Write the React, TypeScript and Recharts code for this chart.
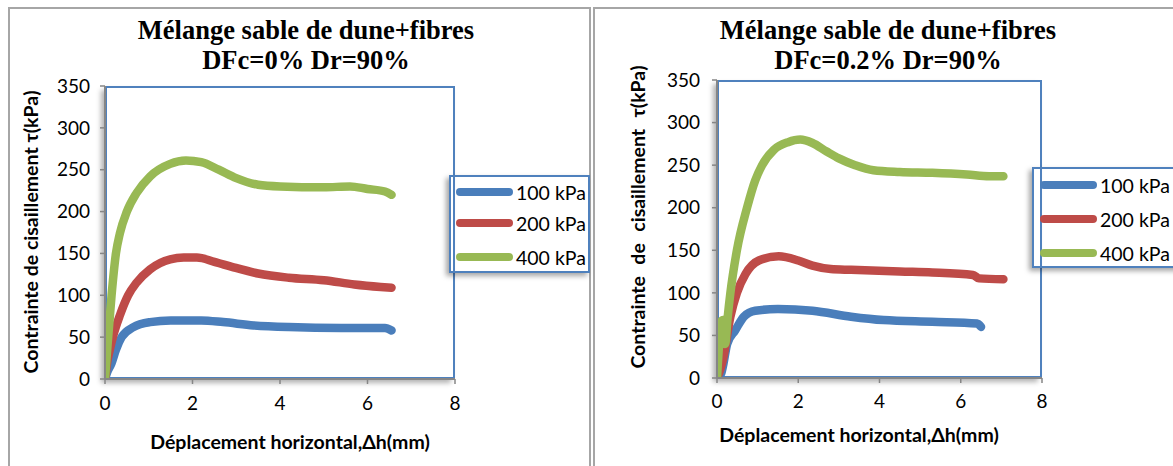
import { LineChart, Line, XAxis, YAxis, Legend } from 'recharts';

const xTicks = [0, 2, 4, 6, 8];
const yTicks = [0, 50, 100, 150, 200, 250, 300, 350];
const seriesNames = ['100 kPa', '200 kPa', '400 kPa'];
const seriesColors = ['#4A7EBB', '#BE4B48', '#98B954'];

// DFc = 0 %
const blue0X = [0, 0.05, 0.15, 0.25, 0.38, 0.65, 1.03, 1.5, 2.2, 2.7, 3.4, 4.2, 5.4, 6.4, 6.55];
const blue0Y = [0, 8, 19, 35, 50, 62, 68, 70, 70, 68, 64, 62, 61, 61, 58];
const red0X = [0, 0.05, 0.11, 0.19, 0.34, 0.53, 0.72, 1.03, 1.49, 1.8, 2.1, 2.5, 2.9, 3.5, 4.2, 5.0, 5.7, 6.3, 6.55];
const red0Y = [0, 20, 35, 52, 76, 100, 115, 131, 143, 145, 145, 140, 134, 126, 121, 118, 113, 110, 109];
const green0X = [0, 0.05, 0.15, 0.25, 0.34, 0.5, 0.72, 1.03, 1.49, 1.85, 2.2, 2.6, 3.0, 3.5, 4.0, 5.0, 5.6, 6.0, 6.4, 6.55];
const green0Y = [0, 35, 100, 150, 174, 200, 222, 242, 257, 261, 259, 250, 240, 232, 230, 229, 230, 227, 224, 220];

// DFc = 0.2 %
const blue2X = [0, 0.1, 0.16, 0.25, 0.45, 0.66, 0.94, 1.5, 2.35, 3.3, 4.1, 5.3, 6.4, 6.5];
const blue2Y = [0, 5, 17, 40, 56, 72, 79, 81, 79, 72, 68, 66, 64, 60];
const red2X = [0, 0.08, 0.16, 0.33, 0.49, 0.7, 1.03, 1.52, 2.0, 2.35, 2.8, 3.3, 4.5, 5.3, 6.3, 6.45, 7.05];
const red2Y = [0, 10, 25, 72, 100, 122, 138, 143, 138, 132, 128, 127, 125, 124, 121, 117, 116];
const green2X = [0, 0.06, 0.1, 0.15, 0.2, 0.26, 0.33, 0.49, 0.74, 0.94, 1.11, 1.4, 1.75, 2.05, 2.35, 2.7, 3.0, 3.4, 3.85, 4.5, 5.3, 6.15, 6.7, 7.05];
const green2Y = [0, 45, 66, 68, 40, 70, 100, 150, 200, 232, 250, 268, 277, 280, 276, 266, 258, 250, 244, 242, 241, 239, 237, 237];

const zip = (xs: number[], ys: number[]) => xs.map((x, i) => ({ x, y: ys[i] }));

const axisGrey = '#868686';
const lato = 'Lato, "Open Sans", sans-serif';

function LegendBox({ payload, itemTops, inset }: any) {
  return (
    <div
      style={{
        position: 'relative',
        width: '100%',
        height: '100%',
        boxSizing: 'border-box',
        border: '2px solid #4F81BD',
        boxShadow: '-3px 3px 5px rgba(0,0,0,0.35)',
      }}
    >
      {(payload || []).map((p: any, i: number) => (
        <div key={p.value} style={{ position: 'absolute', left: inset, top: itemTops[i], display: 'flex', alignItems: 'center', height: 22 }}>
          <div style={{ width: 57, height: 8, borderRadius: 4, background: p.color }} />
          <span style={{ marginLeft: 3, fontFamily: lato, fontSize: 19.5, color: '#000', whiteSpace: 'nowrap' }}>{p.value}</span>
        </div>
      ))}
    </div>
  );
}

function Panel(props: any) {
  const { left, width, plot, series, title2, legend, yLabel, xLabel, tickMargins } = props;
  const m = {
    left: plot.x0 - left - 50,
    right: left + width - plot.x1,
    top: plot.y0,
    bottom: 466 - plot.y1 - 30,
  };
  return (
    <>
      <div
        style={{
          position: 'absolute',
          left: plot.x0,
          top: plot.y0,
          width: plot.x1 - plot.x0,
          height: plot.y1 - plot.y0,
          boxSizing: 'border-box',
          border: '2px solid #4F81BD',
          boxShadow: '-4px 4px 5px rgba(0,0,0,0.3)',
          background: '#fff',
        }}
      />
      <div
        style={{
          position: 'absolute',
          left: props.titleX - 250,
          width: 500,
          top: 15,
          textAlign: 'center',
          fontFamily: '"Liberation Serif", "Times New Roman", serif',
          fontWeight: 'bold',
          fontSize: 26.5,
          lineHeight: '30px',
          color: '#000',
        }}
      >
        Mélange sable de dune+fibres
        <br />
        {title2}
      </div>
      <div
        style={{
          position: 'absolute',
          left: yLabel.x - 200,
          top: yLabel.y - 12,
          width: 400,
          height: 24,
          lineHeight: '24px',
          textAlign: 'center',
          transform: 'rotate(-90deg)',
          fontFamily: lato,
          fontWeight: 'bold',
          fontSize: 19.5,
          wordSpacing: yLabel.spacing,
          color: '#000',
          whiteSpace: 'pre',
        }}
      >
        {yLabel.text}
      </div>
      <div
        style={{
          position: 'absolute',
          left: xLabel.x - 200,
          top: xLabel.y - 12,
          width: 400,
          lineHeight: '24px',
          textAlign: 'center',
          fontFamily: lato,
          fontWeight: 'bold',
          fontSize: 19.5,
          color: '#000',
        }}
      >
        Déplacement horizontal,Δh(mm)
      </div>
      <div style={{ position: 'absolute', left, top: 0 }}>
        <LineChart width={width} height={466} margin={m}>
          <XAxis
            type="number"
            dataKey="x"
            domain={[0, 8]}
            ticks={xTicks}
            height={30}
            axisLine={{ stroke: axisGrey, strokeWidth: 2 }}
            tickLine={{ stroke: axisGrey, strokeWidth: 1.5 }}
            tickSize={5}
            tickMargin={tickMargins.x}
            tick={{ fill: '#000', fontSize: 19, fontFamily: lato }}
            allowDataOverflow
          />
          <YAxis
            type="number"
            dataKey="y"
            domain={[0, 350]}
            ticks={yTicks}
            width={50}
            axisLine={{ stroke: axisGrey, strokeWidth: 2 }}
            tickLine={{ stroke: axisGrey, strokeWidth: 1.5 }}
            tickSize={5}
            tickMargin={tickMargins.y}
            tick={{ fill: '#000', fontSize: 19, fontFamily: lato }}
            allowDataOverflow
          />
          <Legend
            layout="horizontal"
            align="center"
            verticalAlign="middle"
            wrapperStyle={{ left: legend.x - left, top: legend.y, width: legend.w, height: legend.h }}
            content={(p: any) => <LegendBox payload={p.payload} itemTops={legend.tops} inset={legend.inset} />}
          />
          {series.map((s: any, i: number) => (
            <Line
              key={seriesNames[i]}
              data={s}
              dataKey="y"
              name={seriesNames[i]}
              type="monotone"
              stroke={seriesColors[i]}
              strokeWidth={8.5}
              strokeLinecap="round"
              strokeLinejoin="round"
              dot={false}
              activeDot={false}
              isAnimationActive={false}
            />
          ))}
        </LineChart>
      </div>
    </>
  );
}

export default function App() {
  return (
    <div style={{ position: 'absolute', left: 0, top: 0, width: 1173, height: 466, background: '#fff', overflow: 'hidden' }}>
      <div style={{ position: 'absolute', left: 8, top: 7, width: 583, height: 480, boxSizing: 'border-box', border: '2px solid #A6A6A6' }} />
      <div style={{ position: 'absolute', left: 593, top: 7, width: 600, height: 480, boxSizing: 'border-box', border: '2px solid #A6A6A6' }} />
      <Panel
        left={0}
        width={592}
        plot={{ x0: 105, x1: 455, y0: 86, y1: 379 }}
        series={[zip(blue0X, blue0Y), zip(red0X, red0Y), zip(green0X, green0Y)]}
        title2="DFc=0% Dr=90%"
        titleX={306}
        yLabel={{ x: 31, y: 232, text: 'Contrainte de cisaillement τ(kPa)', spacing: 0 }}
        xLabel={{ x: 290, y: 442 }}
        legend={{ x: 449, y: 175, w: 141, h: 98, tops: [4, 35, 69], inset: 5 }}
        tickMargins={{ x: 13, y: 10 }}
      />
      <Panel
        left={593}
        width={580}
        plot={{ x0: 717, x1: 1042, y0: 80, y1: 378 }}
        series={[zip(blue2X, blue2Y), zip(red2X, red2Y), zip(green2X, green2Y)]}
        title2="DFc=0.2% Dr=90%"
        titleX={888}
        yLabel={{ x: 638, y: 217, text: 'Contrainte  de  cisaillement  τ(kPa)', spacing: 1 }}
        xLabel={{ x: 859, y: 435 }}
        legend={{ x: 1032, y: 167, w: 160, h: 101, tops: [5, 39, 73], inset: 6 }}
        tickMargins={{ x: 12, y: 12 }}
      />
    </div>
  );
}
